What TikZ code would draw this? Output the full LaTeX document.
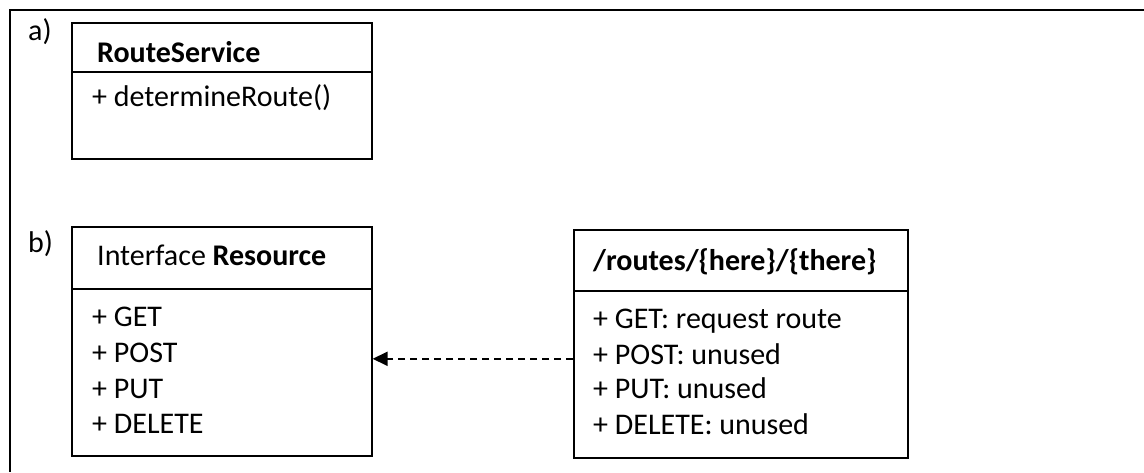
\documentclass[tikz,border=0pt]{standalone}
\usepackage{fontspec}
\setmainfont{Carlito}
\usetikzlibrary{arrows.meta}
\tikzset{
  box/.style={draw=black, line width=1.6pt, rectangle, inner sep=0pt, anchor=north west},
  txt/.style={anchor=base west, inner sep=0pt, font=\fontsize{30}{36}\selectfont},
  dep/.style={line width=1.8pt, dash pattern=on 7pt off 5pt, -{Triangle[length=15pt,width=14pt]}},
  frameline/.style={line width=2pt}
}
\begin{document}
\begin{tikzpicture}[x=1pt,y=1pt]
\useasboundingbox (0,0) rectangle (1144,-472);
% frame
\coordinate (fA) at (1144,-10);
\coordinate (fB) at (10,-10);
\coordinate (fC) at (10,-472);
\draw[frameline] (fA) -- (fB) -- (fC);

% a) RouteService
\node[txt] (la) at (28,-40) {a)};
\node[box, minimum width=300pt, minimum height=49pt] (rsh) at (71,-22) {};
\node[box, minimum width=300pt, minimum height=87pt] (rsb) at (71,-71) {};
\node[txt] (rst) at (97,-62) {\bfseries RouteService};
\node[txt] (rsm) at (92,-106) {+ determineRoute()};

% b) Resource
\node[txt] (lb) at (28,-252) {b)};
\node[box, minimum width=300pt, minimum height=62pt] (resh) at (71,-226) {};
\node[box, minimum width=300pt, minimum height=167pt] (resb) at (71,-288) {};
\node[txt] (rest) at (97,-265) {Interface \textbf{Resource}};
\node[txt] (r1) at (92,-326) {+ GET};
\node[txt] (r2) at (92,-362) {+ POST};
\node[txt] (r3) at (92,-398) {+ PUT};
\node[txt] (r4) at (92,-433) {+ DELETE};

% routes
\node[box, minimum width=334pt, minimum height=61pt] (rth) at (573,-229) {};
\node[box, minimum width=334pt, minimum height=167pt] (rtb) at (573,-290) {};
\node[txt] (rtt) at (593,-270) {\bfseries /routes/\{here\}/\{there\}};
\node[txt] (t1) at (593,-328) {+ GET: request route};
\node[txt] (t2) at (593,-364) {+ POST: unused};
\node[txt] (t3) at (593,-398) {+ PUT: unused};
\node[txt] (t4) at (593,-434) {+ DELETE: unused};

% dependency
\coordinate (ds) at ([yshift=15.5pt]rtb.west);
\draw[dep] (ds) -- (ds -| resb.east);
\end{tikzpicture}
\end{document}
